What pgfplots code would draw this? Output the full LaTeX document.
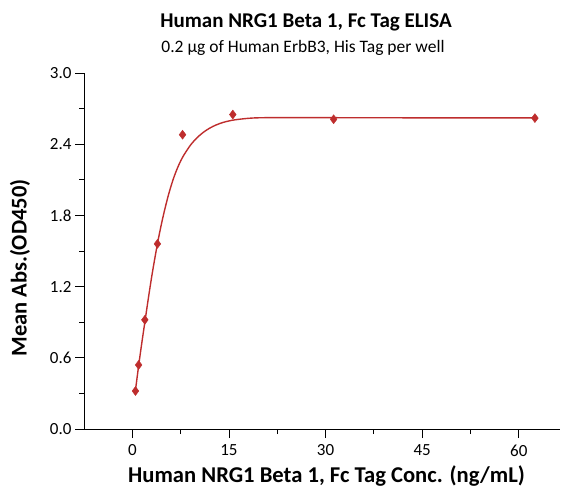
\documentclass[border=0pt]{standalone}
\usepackage{pgfplots}
\pgfplotsset{compat=1.18}
\usepackage{fontspec}
\setmainfont{Carlito}
\definecolor{dred}{RGB}{190,45,45}
\begin{document}
\begin{tikzpicture}[x=1pt,y=1pt]
\useasboundingbox (0,0) rectangle (564,488);
\begin{axis}[
  at={(84pt,59pt)}, anchor=south west,
  scale only axis, width=476pt, height=356pt,
  xmin=-7.5, xmax=66.4, ymin=0, ymax=3.0,
  axis lines*=left,
  axis line style={line width=0.8pt},
  xtick={0,15,30,45,60}, minor xtick={7.5,22.5,37.5,52.5},
  ytick={0,0.6,1.2,1.8,2.4,3.0}, minor ytick={0.3,0.9,1.5,2.1,2.7},
  yticklabel style={/pgf/number format/.cd,fixed,fixed zerofill,precision=1},
  tick align=outside,
  major tick length=9pt, minor tick length=5pt,
  every tick/.style={black, line width=0.8pt},
  /pgf/number format/assume math mode=true,
  ticklabel style={font=\fontsize{17}{19}\selectfont},
  xticklabel style={yshift=-3pt},
  clip=false,
]
\addplot[dred, line width=1.4pt, smooth, no marks] coordinates {
(0.45,0.31) (1.0,0.54) (1.5,0.735) (2.0,0.92) (2.5,1.105) (3.0,1.28) (3.5,1.44)
(4.0,1.589) (4.5,1.722) (5.0,1.842) (5.5,1.95) (6.0,2.045) (6.5,2.128) (7.0,2.198)
(7.5,2.258) (8.0,2.308) (9.0,2.39) (10.0,2.452) (11.0,2.499) (12.0,2.535) (13.0,2.562)
(14.0,2.582) (15.0,2.596) (16.0,2.606) (18.0,2.618) (20.0,2.623) (25.0,2.624)
(35.0,2.623) (50.0,2.622) (62.5,2.622)
};
\addplot[only marks, mark=diamond*, mark size=4.5pt, dred, mark options={fill=dred, draw=dred}] coordinates {
(0.49,0.32) (0.98,0.54) (1.95,0.92) (3.9,1.56) (7.8,2.48) (15.6,2.65) (31.25,2.61) (62.5,2.62)
};
\end{axis}
\node[font=\fontsize{21}{23}\selectfont\bfseries] at (306,466) {Human NRG1 Beta 1, Fc Tag ELISA};
\node[font=\fontsize{17.5}{19}\selectfont] at (303,440) {0.2 µg of Human ErbB3, His Tag per well};
\node[font=\fontsize{22.5}{24}\selectfont\bfseries, rotate=90] at (20,220) {Mean Abs.(OD450)};
\node[font=\fontsize{22.6}{24}\selectfont\bfseries] at (326.5,12) {Human NRG1 Beta 1, Fc Tag Conc. (ng/mL)};
\end{tikzpicture}
\end{document}
